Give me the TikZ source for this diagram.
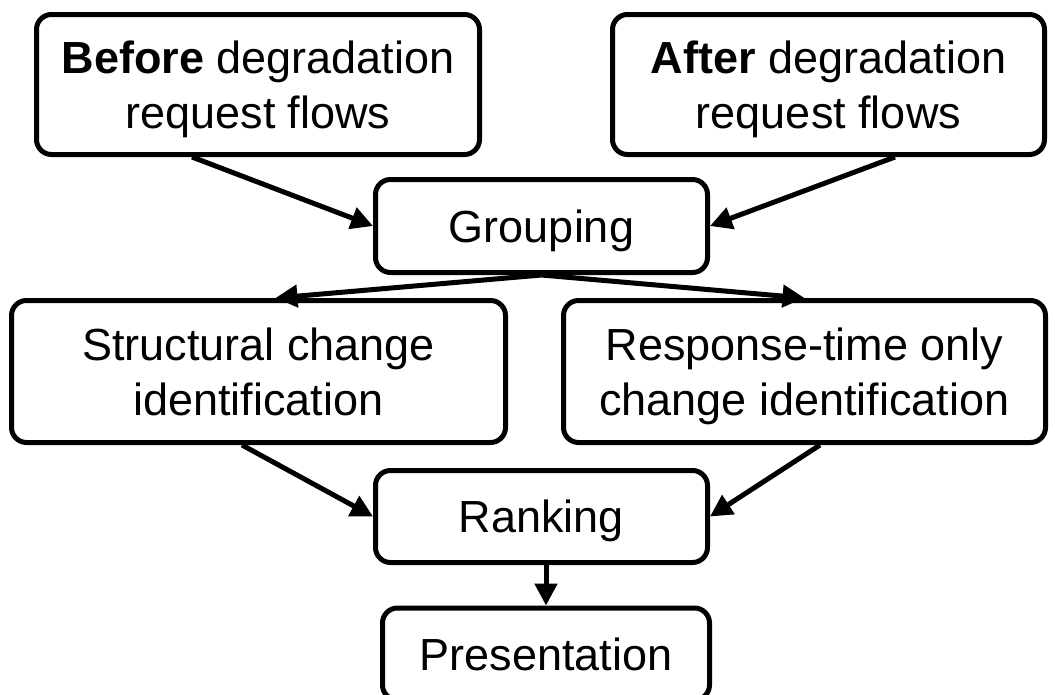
\documentclass[tikz,border=0pt]{standalone}
\usepackage{fontspec}
\setmainfont{Liberation Sans}
\usetikzlibrary{arrows.meta,calc}

\tikzset{
  stage/.style={draw, line width=5pt, rounded corners=15pt, fill=white,
    align=center, inner sep=0pt, text depth=0pt,
    font=\fontsize{45}{55}\selectfont},
  flow/.style={line width=5pt,
    -{Triangle[length=22pt,width=22pt]}},
}

\begin{document}
\begin{tikzpicture}[x=1pt,y=-1pt]
  \useasboundingbox[fill=white] (0,0) rectangle (1055,694);

  % inputs
  \node[stage, minimum width=443pt, minimum height=140pt] (before) at (258,84.5)
    {\textbf{Before} degradation\\request flows};
  \node[stage, minimum width=432pt, minimum height=140pt] (after) at (828.5,84.5)
    {\textbf{After} degradation\\request flows};

  % processing stages
  \node[stage, minimum width=332pt, minimum height=93pt] (grouping) at (541.5,226)
    {Grouping};
  \node[stage, minimum width=494pt, minimum height=142pt] (structural) at (258.5,371.5)
    {Structural change\\identification};
  \node[stage, minimum width=482pt, minimum height=142pt] (response) at (804.5,371.5)
    {Response-time only\\change identification};
  \node[stage, minimum width=332pt, minimum height=92pt] (ranking) at (541.5,516.5)
    {Ranking};
  \node[stage, minimum width=327pt, minimum height=92pt] (presentation) at (546,654)
    {Presentation};

  % connectors
  \draw[flow] ($(before.south)+(-66,0)$) -- (grouping.west);
  \draw[flow] ($(after.south)+(66.5,0)$) -- (grouping.east);
  \draw[flow] (grouping.south) -- ($(structural.north)+(17,0)$);
  \draw[flow] (grouping.south) -- (response.north);
  \draw[flow] ($(structural.south)+(-16.5,0)$) -- (ranking.west);
  \draw[flow] ($(response.south)+(15.5,0)$) -- (ranking.east);
  \draw[flow] (ranking.south -| presentation.north) -- (presentation.north);
\end{tikzpicture}
\end{document}
